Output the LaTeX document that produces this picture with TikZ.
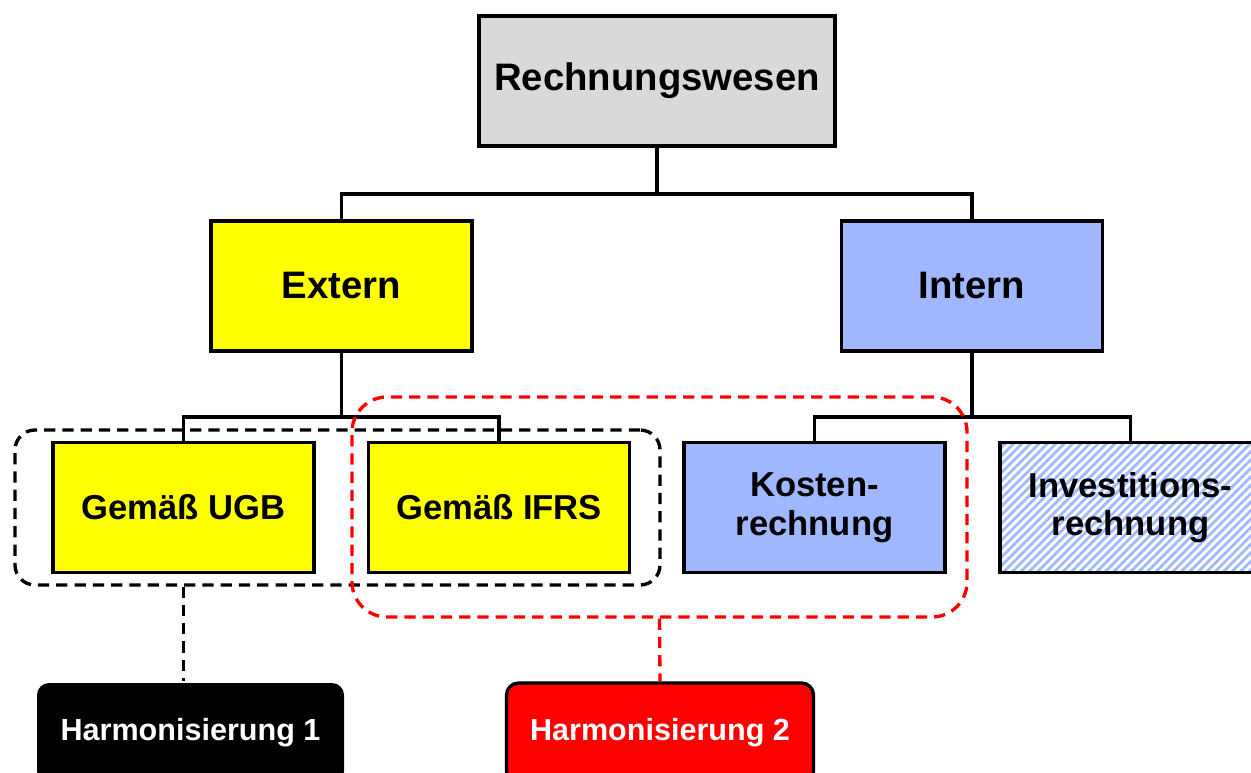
\documentclass[tikz,border=0pt]{standalone}
\usepackage{fontspec}
\setmainfont{Liberation Sans}
\usetikzlibrary{positioning, patterns.meta}
\newlength{\pxunit}
\setlength{\pxunit}{0.02cm}
\newcommand{\boxwidth}{261\pxunit}
\newcommand{\boxheight}{130\pxunit}
\definecolor{rwgray}{HTML}{D9D9D9}
\definecolor{extyellow}{HTML}{FFFF00}
\definecolor{intblue}{HTML}{A0B8FF}
\definecolor{harmred}{HTML}{FF0000}
\tikzset{
    treeline/.style={line width=2pt},
    groupdash/.style={dash pattern=on 6.4pt off 4pt, line width=1.9pt},
    unitbox/.style={draw, line width=2.2pt, minimum width=\boxwidth,
        minimum height=\boxheight, inner sep=0pt, align=center,
        font=\bfseries\fontsize{19.7}{22}\selectfont},
    bigbox/.style={unitbox, font=\bfseries\fontsize{21.8}{24}\selectfont},
    harmbox/.style={rounded corners=12\pxunit, line width=1.9pt,
        minimum width=307\pxunit, minimum height=100\pxunit, inner sep=0pt,
        text=white, font=\bfseries\fontsize{17.4}{19}\selectfont},
    groupbox/.style={draw, groupdash, inner sep=0pt}
}

\begin{document}
\begin{tikzpicture}[x=0.02cm, y=-0.02cm]
    \useasboundingbox (0,0) rectangle (1251,773);
    \clip (0,0) rectangle (1251,773);

    % top level
    \node[bigbox, fill=rwgray, minimum width=356\pxunit] (rw) at (657,81) {Rechnungswesen};
    \node[bigbox, fill=extyellow] (ext) at (341.5,286) {Extern};
    \node[bigbox, fill=intblue] (int) at (972,286) {Intern};

    % second level
    \node[unitbox, fill=extyellow] (ugb) at (183.5,507.5) {Gemäß UGB};
    \node[unitbox, fill=extyellow] (ifrs) at (499,507.5) {Gemäß IFRS};
    \node[unitbox, fill=intblue] (kosten) at (814.5,507.5) {Kosten-\\rechnung};
    \node[unitbox, pattern={Lines[angle=45, distance=3.4pt, line width=1.6pt]},
        pattern color=intblue] (invest) at (1130.5,507.5) {Investitions-\\rechnung};

    % tree lines
    \draw[treeline] (rw.south) -- ++(0,46) coordinate (rwbar) -| (ext.north);
    \draw[treeline] (rwbar) -| (int.north);
    \draw[treeline] (ext.south) -- ++(0,64) coordinate (extbar) -| (ugb.north);
    \draw[treeline] (extbar) -| (ifrs.north);
    \draw[treeline] (int.south) -- ++(0,64) coordinate (intbar) -| (kosten.north);
    \draw[treeline] (intbar) -| (invest.north);

    % harmonisation groups
    \node[groupbox, rounded corners=20\pxunit, minimum width=645\pxunit,
        minimum height=155\pxunit] (grpone) at (337.5,507.5) {};
    \node[groupbox, draw=harmred, rounded corners=35\pxunit, minimum width=615\pxunit,
        minimum height=220\pxunit] (grptwo) at (659.5,507) {};

    \node[harmbox, fill=black] (harmone) at (190.5,733) {Harmonisierung 1};
    \node[harmbox, draw=black, fill=harmred] (harmtwo) at (660,733) {Harmonisierung 2};

    \draw[groupdash] (ugb.south |- grpone.south) -- (ugb.south |- harmone.north);
    \draw[groupdash, harmred] (grptwo.south) -- (harmtwo.north);
\end{tikzpicture}
\end{document}
